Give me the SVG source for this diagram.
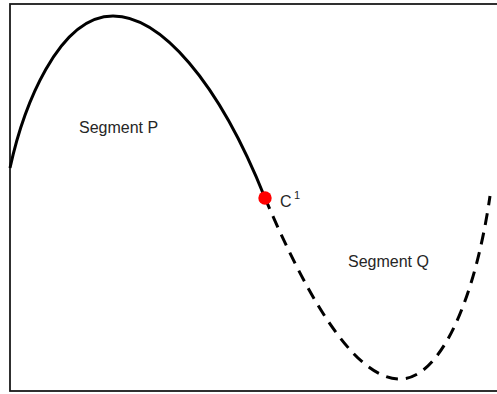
<svg xmlns="http://www.w3.org/2000/svg" width="497" height="394" viewBox="0 0 497 394">
<style>
.lbl{font-family:"Liberation Sans",Arial,sans-serif;fill:#262626}
.curve{fill:none;stroke:#000;stroke-width:3;stroke-linecap:butt}
</style>
<rect x="0" y="0" width="497" height="394" fill="#fff"/>
<rect id="frame" x="10" y="4" width="500" height="387" fill="none" stroke="#1a1a1a" stroke-width="1.8"/>
<g id="connectors">
<path id="segP" class="curve" d="M10,168 C23,108 58,16 113,16 C160,16 218,80 265,198"/>
<path id="segQ" class="curve" stroke-dasharray="12,8" d="M265,198 C300,280 350,379 400,379 C440,379 475,300 490,196"/>
</g>
<g id="labelP"><text class="lbl" x="79" y="133" font-size="16">Segment P</text></g>
<g id="labelQ"><text class="lbl" x="348" y="267" font-size="16">Segment Q</text></g>
<g id="C1">
<circle cx="265" cy="198" r="6.7" fill="#f00"/>
<text class="lbl" x="280" y="206.5" font-size="16">C</text>
<text class="lbl" x="294" y="199" font-size="11">1</text>
</g>
</svg>
